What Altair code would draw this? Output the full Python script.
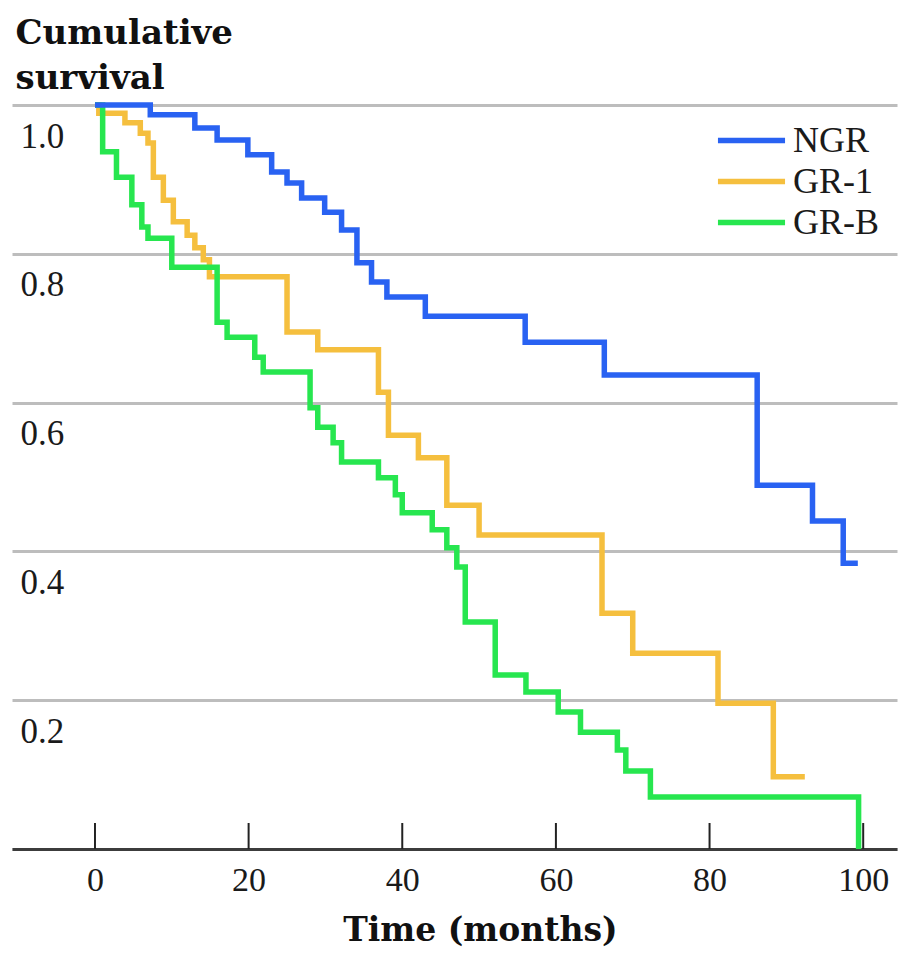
import altair as alt
import pandas as pd

# ---- data (months, cumulative survival) ----
groups = ["NGR", "GR-1", "GR-B"]
colors = ["#2962f2", "#f5bf3e", "#27e64f"]

ngr_time = [0, 7.2, 13.0, 15.9, 19.9, 23.0, 25.0, 26.9, 29.9, 32.1, 34.1, 36.0, 38.0,
            43.0, 56.0, 66.3, 86.2, 93.4, 97.4, 99.3]
ngr_surv = [1.0, 0.987, 0.969, 0.953, 0.933, 0.910, 0.895, 0.875, 0.856, 0.832, 0.788,
            0.762, 0.742, 0.716, 0.681, 0.637, 0.489, 0.441, 0.384, 0.384]

gr1_time = [0, 0.5, 3.9, 5.9, 6.9, 7.6, 8.9, 10.2, 12.0, 13.0, 14.1, 14.9, 25.0, 29.0,
            36.9, 38.2, 42.1, 45.8, 50.0, 66.0, 70.0, 81.1, 88.3, 92.4]
gr1_surv = [1.0, 0.989, 0.976, 0.962, 0.949, 0.903, 0.872, 0.843, 0.825, 0.808, 0.792,
            0.769, 0.695, 0.671, 0.614, 0.556, 0.526, 0.462, 0.422, 0.317, 0.263, 0.196,
            0.097, 0.097]

grb_time = [0, 1.0, 2.8, 4.8, 6.1, 6.9, 10.0, 15.9, 17.2, 20.8, 21.9, 28.0, 29.0, 31.0,
            32.1, 36.9, 39.1, 40.0, 43.9, 45.8, 47.1, 48.2, 52.1, 56.1, 60.3, 63.2, 68.0,
            69.1, 72.3, 99.4]
grb_surv = [1.0, 0.937, 0.903, 0.866, 0.836, 0.821, 0.782, 0.708, 0.688, 0.661, 0.641,
            0.593, 0.567, 0.546, 0.520, 0.499, 0.476, 0.452, 0.429, 0.405, 0.379, 0.305,
            0.234, 0.211, 0.184, 0.157, 0.133, 0.105, 0.070, 0.0]

x_ticks = [0, 20, 40, 60, 80, 100]
y_ticks = [0, 0.2, 0.4, 0.6, 0.8, 1.0]

rows = []
for name, ts, vs in [("GR-1", gr1_time, gr1_surv), ("GR-B", grb_time, grb_surv),
                     ("NGR", ngr_time, ngr_surv)]:
    for i, (t, v) in enumerate(zip(ts, vs)):
        rows.append({"group": name, "time": t, "surv": v, "idx": i})
df = pd.DataFrame(rows)
tick_df = pd.DataFrame({"time": x_ticks})

FONT = "Liberation Serif"
BOLD_FONT = "DejaVu Serif"
x_scale = alt.Scale(domain=[-10.8, 104.4], nice=False, zero=False)
y_scale = alt.Scale(domain=[0, 1], nice=False, zero=False)

x_axis = alt.Axis(values=x_ticks, title="Time (months)", grid=False, ticks=False,
                  tickSize=0, domain=True, domainColor="#3c3c3c", domainWidth=3,
                  labelFont=FONT, labelFontSize=34, labelColor="#1a1a1a",
                  labelBaseline="alphabetic", labelPadding=41, labelFlush=False,
                  labelOverlap=False,
                  titleFont=BOLD_FONT, titleFontSize=33, titleFontWeight="bold",
                  titleColor="#111111", titleX=468, titleY=91,
                  titleAlign="center", titleBaseline="alphabetic")

lines = alt.Chart(df).mark_line(interpolate="step-after", strokeWidth=5.5).encode(
    x=alt.X("time:Q", scale=x_scale, axis=x_axis),
    y=alt.Y("surv:Q", scale=y_scale,
            axis=alt.Axis(values=y_ticks, grid=True, gridColor="#bdbdbd", gridWidth=3,
                          ticks=False, tickSize=0, domain=False,
                          labelFont=FONT, labelFontSize=35, labelColor="#1a1a1a",
                          labelAlign="left", labelBaseline="alphabetic",
                          labelPadding=-8, labelOffset=42, labelFlush=False,
                          labelOverlap=False,
                          labelExpr="datum.value == 0 ? '' : format(datum.value, '.1f')",
                          title=["Cumulative", "survival"], titleAngle=0,
                          titleFont=BOLD_FONT, titleFontSize=34, titleFontWeight="bold",
                          titleColor="#111111", titleLineHeight=45,
                          titleX=3, titleY=-62, titleAlign="left",
                          titleBaseline="alphabetic")),
    color=alt.Color("group:N", scale=alt.Scale(domain=groups, range=colors),
                    legend=alt.Legend(title=None, orient="none", legendX=717, legendY=13,
                                      symbolType="M-1.72,0H1.72", symbolSize=1521,
                                      symbolStrokeWidth=5.5, labelFont=FONT,
                                      labelFontSize=36, labelColor="#1a1a1a",
                                      labelOffset=19, rowPadding=-1, padding=0)),
    order="idx:Q",
    detail="group:N",
)

ticks = alt.Chart(tick_df).mark_rule(color="#222222", strokeWidth=2).encode(
    x=alt.X("time:Q", scale=x_scale, axis=x_axis),
    y=alt.value(718),
    y2=alt.value(744),
)

chart = alt.layer(lines, ticks).properties(
    width=885, height=744,
    autosize=alt.AutoSizeParams(type="none"),
    padding={"left": 4, "top": 97, "right": 5, "bottom": 102},
    background="white",
).configure_view(stroke=None)

chart.save("out.html", embed_options={"renderer": "svg", "actions": False})
